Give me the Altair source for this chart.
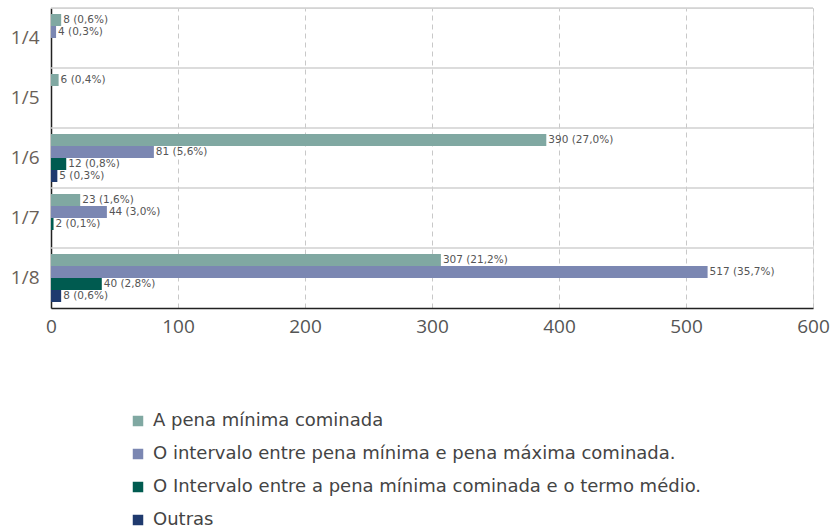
import altair as alt
import pandas as pd

categories = ["1/4", "1/5", "1/6", "1/7", "1/8"]
series = [
    "A pena mínima cominada",
    "O intervalo entre pena mínima e pena máxima cominada.",
    "O Intervalo entre a pena mínima cominada e o termo médio.",
    "Outras",
]
colors = ["#80A8A2", "#7B87B2", "#005B50", "#1F3A6E"]

# values per category, in series order (None = no bar)
values = {
    "1/4": [8, 4, None, None],
    "1/5": [6, None, None, None],
    "1/6": [390, 81, 12, 5],
    "1/7": [23, 44, 2, None],
    "1/8": [307, 517, 40, 8],
}
percents = {
    "1/4": ["0,6%", "0,3%", None, None],
    "1/5": ["0,4%", None, None, None],
    "1/6": ["27,0%", "5,6%", "0,8%", "0,3%"],
    "1/7": ["1,6%", "3,0%", "0,1%", None],
    "1/8": ["21,2%", "35,7%", "2,8%", "0,6%"],
}

rows = []
for c in categories:
    for i, s in enumerate(series):
        v = values[c][i]
        if v is None:
            continue
        rows.append({"cat": c, "series": s, "value": v,
                     "label": f"{v} ({percents[c][i]})"})
df = pd.DataFrame(rows)
sep = pd.DataFrame({"cat": categories})

W, H = 762, 300
FONT = "Open Sans"
WIDE = "DejaVu Sans"

yenc = alt.Y("cat:N", sort=categories,
             scale=alt.Scale(paddingInner=0, paddingOuter=0),
             axis=alt.Axis(title=None, ticks=False, labelFontSize=19,
                           labelColor="#6A5F58", labelPadding=12,
                           domainColor="#222222", domainWidth=1.5,
                           labelFont=FONT))
yoff = alt.YOffset("series:N", sort=series,
                   scale=alt.Scale(paddingInner=0, paddingOuter=0.5))

bars = alt.Chart(df).mark_bar().encode(
    x=alt.X("value:Q", scale=alt.Scale(domain=[0, 600], nice=False),
            axis=alt.Axis(title=None, values=[0, 100, 200, 300, 400, 500, 600],
                          ticks=False, labelFontSize=19, labelColor="#555555",
                          labelPadding=9, labelFlush=False, grid=True,
                          gridDash=[5, 4], gridColor="#C8C8C8",
                          domainColor="#222222", domainWidth=1.5,
                          labelFont=FONT)),
    y=yenc,
    yOffset=yoff,
    color=alt.Color("series:N", sort=series,
                    scale=alt.Scale(domain=series, range=colors),
                    legend=alt.Legend(title=None, orient="none", legendX=78,
                                      legendY=404, symbolType="square",
                                      symbolSize=110, symbolStrokeWidth=0,
                                      labelFontSize=18, labelColor="#444444",
                                      labelFont=WIDE, rowPadding=15,
                                      labelLimit=750, labelOffset=6)),
)

texts = alt.Chart(df).mark_text(align="left", baseline="middle", dx=2,
                                fontSize=10.5, color="#555555", font=WIDE).encode(
    x=alt.X("value:Q"),
    y=alt.Y("cat:N", sort=categories),
    yOffset=alt.YOffset("series:N", sort=series),
    text="label:N",
)

seps = alt.Chart(sep).mark_rule(color="#D0D0D0", strokeWidth=1.5).encode(
    y=alt.Y("cat:N", sort=categories, bandPosition=0),
    x=alt.value(0),
    x2=alt.value(W),
)

chart = alt.layer(seps, bars, texts).properties(
    width=W, height=H,
    autosize=alt.AutoSizeParams(type="none"),
    padding={"left": 51, "top": 8, "right": 19, "bottom": 224},
).configure_view(stroke=None).configure(font=FONT)

chart.save("out.html", embed_options={"renderer": "svg", "actions": False})
